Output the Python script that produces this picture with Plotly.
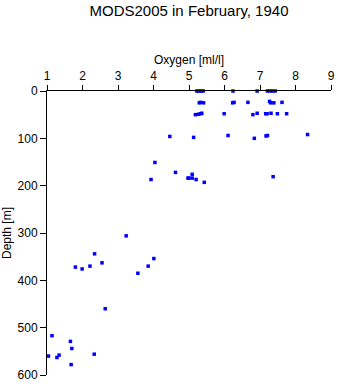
import plotly.graph_objects as go

# Oxygen concentration [ml/l] and sampling depth [m], MODS2005 February 1940
oxygen = [
    5.22, 5.28, 5.34, 5.40, 6.24, 6.92, 7.21, 7.28, 7.35, 7.43,
    5.29, 5.33, 5.41, 6.23, 6.27, 6.66, 7.27, 7.30, 7.39, 7.62,
    5.18, 5.27, 5.33, 5.36, 5.99, 6.80, 6.92, 7.16, 7.20, 7.31, 7.49, 7.75,
    4.46, 5.13, 6.10, 6.84, 7.17, 7.21, 8.34,
    4.04, 4.62, 5.09, 4.97, 5.00, 5.09, 5.20, 5.43, 7.37, 3.93,
    3.23, 2.34, 4.01, 2.55, 1.80, 1.99, 2.21, 3.85, 3.56, 2.64,
    1.14, 1.66, 1.70, 2.33, 1.34, 1.04, 1.28, 1.68,
]
depth = [
    0, 0, 0, 0, 0, 0, 0, 0, 0, 0,
    25, 24, 25, 25, 24, 24, 22, 25, 25, 24,
    50, 49, 48, 47, 48, 50, 47, 48, 48, 47, 48, 48,
    96, 98, 94, 100, 95, 94, 92,
    151, 172, 176, 184, 184, 184, 187, 193, 181, 187,
    306, 344, 354, 363, 372, 376, 370, 370, 385, 460,
    517, 529, 544, 556, 558, 560, 563, 578,
]

x_ticks = [1, 2, 3, 4, 5, 6, 7, 8, 9]
y_ticks = [0, 100, 200, 300, 400, 500, 600]

font_family = "Liberation Sans, Arial, sans-serif"

fig = go.Figure(
    go.Scatter(
        x=oxygen,
        y=depth,
        mode="markers",
        marker=dict(symbol="square", size=3.5, color="#0000ff", line=dict(width=0)),
        cliponaxis=False,
        hoverinfo="x+y",
    )
)

fig.update_layout(
    width=338,
    height=384,
    margin=dict(l=47, r=7, t=91, b=9),
    paper_bgcolor="white",
    plot_bgcolor="white",
    showlegend=False,
    font=dict(family=font_family, size=12, color="black"),
    title=dict(
        text="MODS2005 in February, 1940",
        x=0.5,
        xref="paper",
        xanchor="center",
        y=1 - 11 / 384,
        yref="container",
        yanchor="middle",
        font=dict(family=font_family, size=15, color="black"),
    ),
)

fig.update_xaxes(
    side="top",
    range=[1, 9],
    automargin=False,
    tickvals=x_ticks,
    ticktext=[str(v) for v in x_ticks],
    showline=True,
    linecolor="black",
    linewidth=1,
    ticks="outside",
    ticklen=5,
    tickcolor="black",
    showgrid=False,
    zeroline=False,
    title=dict(text="Oxygen [ml/l]", standoff=2, font=dict(size=12)),
)

fig.update_yaxes(
    range=[600, 0],
    automargin=False,
    tickvals=y_ticks,
    ticktext=[str(v) for v in y_ticks],
    showline=True,
    linecolor="black",
    linewidth=1,
    ticks="outside",
    ticklen=6,
    tickcolor="black",
    showgrid=False,
    zeroline=False,
    title=dict(text="Depth [m]", standoff=4, font=dict(size=12)),
)

fig.write_html("out.html")
